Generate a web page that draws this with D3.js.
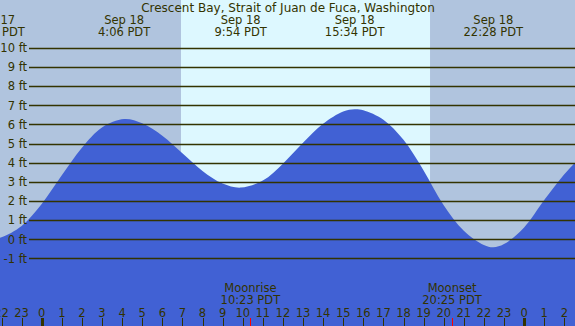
<!DOCTYPE html>
<html><head><meta charset="utf-8">
<script src="https://cdn.jsdelivr.net/npm/d3@7"></script>
<style>body{margin:0;overflow:hidden}svg{display:block}text{font-family:"DejaVu Sans",sans-serif;font-size:11.5px;fill:#333300}</style>
</head><body>
<script>
const title = "Crescent Bay, Strait of Juan de Fuca, Washington";
// tide readings: hours after Sep 18 00:00 PDT, height in ft
const tideHours = [-3,-2.32,-2,-1,0,1,2,3,4.1,5,6,7,8,9,9.9,11,12,13,14,15,15.57,16,17,18,19,20,21,22,22.47,23,24,25,26,27];
const tideFeet  = [0.24,0.07,0.11,0.7,1.85,3.34,4.78,5.84,6.28,6.06,5.41,4.49,3.57,2.91,2.7,3.07,3.95,5.04,6.04,6.68,6.8,6.74,6.25,5.2,3.6,1.78,0.45,-0.3,-0.42,-0.25,0.62,2.05,3.4,4.5];
// extremes labels
const extremeHours = [-2.32,4.1,9.9,15.57,22.47];
const extremeDates = ["Sep 17","Sep 18","Sep 18","Sep 18","Sep 18"];
const extremeTimes = ["21:41 PDT","4:06 PDT","9:54 PDT","15:34 PDT","22:28 PDT"];
const feetTicks = [-1,0,1,2,3,4,5,6,7,8,9,10];
const hourTicks = d3.range(-2,27);
const sunriseHour = 6.93, sunsetHour = 19.32;
const moonHours = [10.383,20.417];
const moonNames = ["Moonrise","Moonset"];
const moonTimes = ["10:23 PDT","20:25 PDT"];

const W=575,H=326;
const x=d3.scaleLinear().domain([0,24]).range([41.7,524.1]);
const y=d3.scaleLinear().domain([0,10]).range([239.3,47.9]);
const svg=d3.select("body").append("svg").attr("width",W).attr("height",H);

// background night/day
svg.append("rect").attr("x",0).attr("y",0).attr("width",W).attr("height",H).attr("fill","#b0c4de");
svg.append("rect").attr("x",x(sunriseHour)).attr("y",0).attr("width",x(sunsetHour)-x(sunriseHour)).attr("height",H).attr("fill","#ddf8ff");

// tide area
const pts=tideHours.map((h,i)=>[h,tideFeet[i]]);
svg.append("path").datum(pts)
  .attr("d",d3.area().x(d=>x(d[0])).y0(H).y1(d=>y(d[1])).curve(d3.curveCatmullRom.alpha(0.5)))
  .attr("fill","#4161d4");

// grid lines
svg.selectAll(".g").data(feetTicks).enter().append("line")
  .attr("x1",29).attr("x2",W).attr("y1",d=>Math.round(y(d))+0.5).attr("y2",d=>Math.round(y(d))+0.5)
  .attr("stroke","#333300").attr("stroke-width",1.3);
svg.selectAll(".yl").data(feetTicks).enter().append("text")
  .attr("x",27).attr("y",d=>y(d)+4.3).attr("text-anchor","end").text(d=>d+" ft");

// title
svg.append("text").attr("x",288).attr("y",11.7).attr("text-anchor","middle").style("font-size","12px").text(title);
// extremes labels
extremeHours.forEach((h,i)=>{
  svg.append("text").attr("x",x(h)).attr("y",23.7).attr("text-anchor","middle").text(extremeDates[i]);
  svg.append("text").attr("x",x(h)).attr("y",36.2).attr("text-anchor","middle").text(extremeTimes[i]);
});

// hour axis
svg.selectAll(".ht").data(hourTicks).enter().append("line")
  .attr("x1",d=>Math.round(x(d))+0.5).attr("x2",d=>Math.round(x(d))+0.5)
  .attr("y1",318).attr("y2",H)
  .attr("stroke","#333300").attr("stroke-width",d=>(((d%24)+24)%24)===0?3:1);
svg.selectAll(".hl").data(hourTicks).enter().append("text")
  .attr("x",d=>x(d)).attr("y",316.5).attr("text-anchor","middle")
  .text(d=>((d%24)+24)%24);

// moon
moonHours.forEach((h,i)=>{
  svg.append("line").attr("x1",Math.round(x(h))+0.5).attr("x2",Math.round(x(h))+0.5)
    .attr("y1",318).attr("y2",H).attr("stroke","#ff0000").attr("stroke-width",1);
  svg.append("text").attr("x",x(h)).attr("y",291.5).attr("text-anchor","middle").text(moonNames[i]);
  svg.append("text").attr("x",x(h)).attr("y",303.5).attr("text-anchor","middle").text(moonTimes[i]);
});
</script>
</body></html>
